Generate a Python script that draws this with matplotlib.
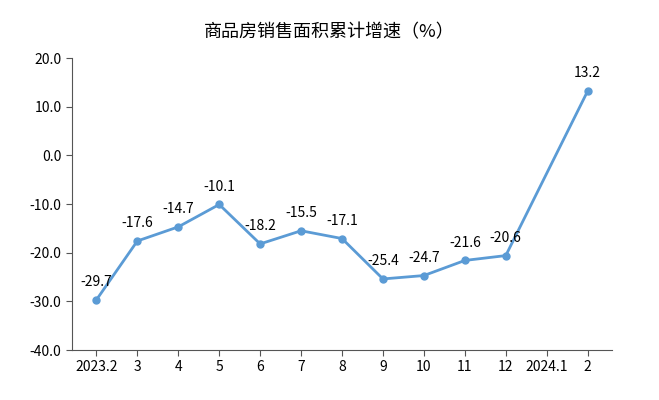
import matplotlib
matplotlib.use("Agg")
import matplotlib.pyplot as plt
import numpy as np

plt.rcParams['font.family'] = ['Noto Sans CJK SC', 'DejaVu Sans']

categories = ["2023.2", "3", "4", "5", "6", "7", "8", "9", "10", "11", "12", "2024.1", "2"]
values = [-29.7, -17.6, -14.7, -10.1, -18.2, -15.5, -17.1, -25.4, -24.7, -21.6, -20.6, None, 13.2]

fig = plt.figure(figsize=(6.59, 4.0), dpi=100)
ax = fig.add_axes([0.109, 0.125, 0.82, 0.73])
xs = [i for i, v in enumerate(values) if v is not None]
ys = [v for v in values if v is not None]
color = "#5b9bd5"
ax.plot(xs, ys, color=color, lw=2, marker="o", ms=5)
for x, y in zip(xs, ys):
    ax.text(x, y + 2.2, f"{y:.1f}", ha="center", va="bottom", fontsize=10)
ax.set_ylim(-40, 20)
ax.set_yticks(np.arange(-40, 21, 10))
ax.set_yticklabels([f"{t:.1f}" for t in np.arange(-40, 21, 10)], fontsize=10)
ax.set_xlim(-0.6, len(categories) - 0.4)
ax.set_xticks(range(len(categories)))
ax.set_xticklabels(categories, fontsize=10)
for s in ["top", "right"]:
    ax.spines[s].set_visible(False)
ax.spines["left"].set_color("#555555")
ax.spines["bottom"].set_color("#555555")
ax.tick_params(length=4, color="#555555")
fig.text(0.5, 0.92, "商品房销售面积累计增速（%）", ha="center", va="center", fontsize=13)
fig.savefig("out.png", dpi=100)
